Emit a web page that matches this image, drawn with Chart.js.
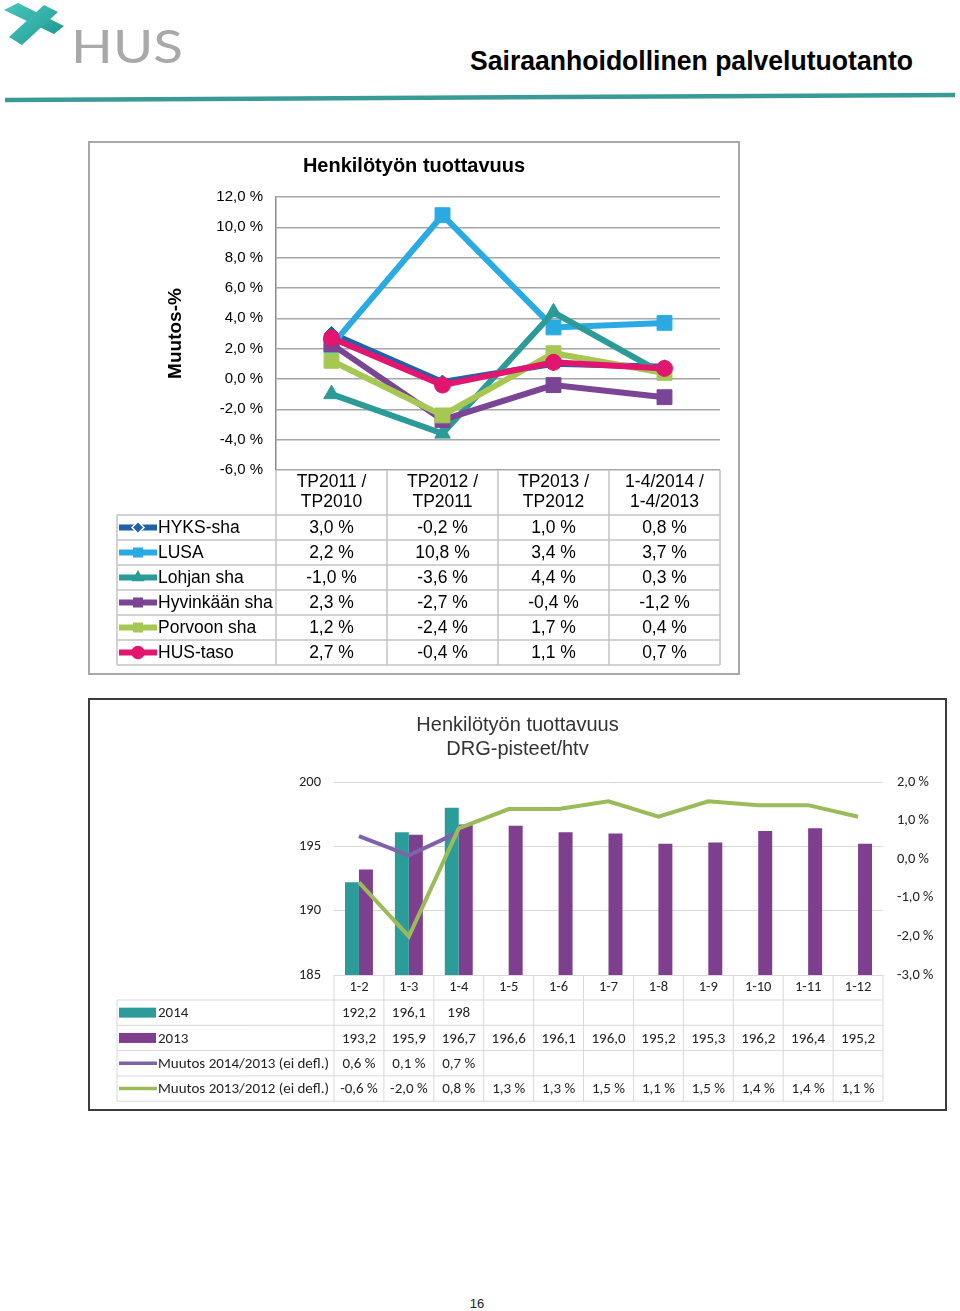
<!DOCTYPE html>
<html>
<head>
<meta charset="utf-8">
<script src="https://cdn.jsdelivr.net/npm/chart.js@4.4.1/dist/chart.umd.min.js"></script>
<style>
  body { margin: 0; width: 960px; height: 1311px; position: relative; background: #fff; overflow: hidden;
         font-family: "Liberation Sans", Arial, sans-serif; }
  #header { position: absolute; left: 0; top: 0; }
  .box { position: absolute; box-sizing: border-box; }
  #box1 { left: 88px; top: 141px; width: 652px; height: 534px; border: 2px solid #a9a9a9; }
  #box2 { left: 88px; top: 698px; width: 859px; height: 413px; border: 2px solid #3c3c3c; }
  canvas { display: block; }
  #pageNo { position: absolute; left: 0; width: 954px; top: 1296px; text-align: center; font-size: 13px; color: #222; }
</style>
</head>
<body>

<svg id="header" width="960" height="110">
  <defs>
    <linearGradient id="tealGrad" x1="0" y1="0" x2="1" y2="1">
      <stop offset="0" stop-color="#48c6bc"/>
      <stop offset="1" stop-color="#1f9a93"/>
    </linearGradient>
  </defs>
  <!-- logo mark -->
  <polygon points="4,10 18,3 64,26 54,34" fill="url(#tealGrad)"/>
  <polygon points="44,5 58,12 22,45 9,37" fill="url(#tealGrad)"/>
  <text x="71" y="63" font-family="Lato, 'Liberation Sans'" font-weight="400" font-size="47" fill="#a9a9a9"
        textLength="112" lengthAdjust="spacingAndGlyphs">HUS</text>
  <!-- title -->
  <text x="470" y="70" font-family="'Liberation Sans', Arial" font-weight="bold" font-size="27" fill="#000"
        textLength="443" lengthAdjust="spacingAndGlyphs">Sairaanhoidollinen palvelutuotanto</text>
  <!-- rule -->
  <line x1="5" y1="100" x2="955" y2="95" stroke="#3a9a96" stroke-width="4.5"/>
</svg>

<div class="box" id="box1"><canvas id="chart1" width="648" height="530"></canvas></div>
<div class="box" id="box2"><canvas id="chart2" width="855" height="409"></canvas></div>
<div id="pageNo">16</div>

<script>
// --- DATOS: Henkilötyön tuottavuus (muutos-%) ---
const periods = [['TP2011 /', 'TP2010'], ['TP2012 /', 'TP2011'], ['TP2013 /', 'TP2012'], ['1-4/2014 /', '1-4/2013']];
const units = ['HYKS-sha', 'LUSA', 'Lohjan sha', 'Hyvinkään sha', 'Porvoon sha', 'HUS-taso'];
const hyks = [3.0, -0.2, 1.0, 0.8];
const lusa = [2.2, 10.8, 3.4, 3.7];
const lohja = [-1.0, -3.6, 4.4, 0.3];
const hyvinkaa = [2.3, -2.7, -0.4, -1.2];
const porvoo = [1.2, -2.4, 1.7, 0.4];
const husTaso = [2.7, -0.4, 1.1, 0.7];
const pctMin = -6, pctMax = 12, pctStep = 2;

// --- DATOS: DRG-pisteet/htv ---
const months = ['1-2', '1-3', '1-4', '1-5', '1-6', '1-7', '1-8', '1-9', '1-10', '1-11', '1-12'];
const drg2014 = [192.2, 196.1, 198, null, null, null, null, null, null, null, null];
const drg2013 = [193.2, 195.9, 196.7, 196.6, 196.1, 196.0, 195.2, 195.3, 196.2, 196.4, 195.2];
const change1413 = [0.6, 0.1, 0.7, null, null, null, null, null, null, null, null];
const change1312 = [-0.6, -2.0, 0.8, 1.3, 1.3, 1.5, 1.1, 1.5, 1.4, 1.4, 1.1];
const drgMin = 185, drgMax = 200, drgStep = 5;
const chgMin = -3, chgMax = 2, chgStep = 1;

const ARIAL = '"Liberation Sans", Arial, sans-serif';
const CALIBRI = 'Carlito, Calibri, Lato, "Liberation Sans", sans-serif';

const pct1 = v => v.toFixed(1).replace('.', ',') + ' %';
const num1 = v => v.toFixed(1).replace('.', ',');
const numGen = v => String(v).replace('.', ',');

// --- TABLA DE DATOS BAJO EL GRÁFICO ---
function makeTable(cfg) {
  return {
    id: 'dataTable',
    afterDraw(chart) {
      const { ctx, scales: { x } } = chart;
      const n = chart.data.labels.length;
      const step = x.getPixelForValue(1) - x.getPixelForValue(0);
      const x0 = x.getPixelForValue(0) - step / 2;
      const x1 = x0 + n * step;
      const top = x.bottom;
      const bottom = top + cfg.rows.length * cfg.rowHeight;

      ctx.save();
      ctx.strokeStyle = cfg.lineColor;
      ctx.lineWidth = cfg.lineWidth;
      ctx.beginPath();
      for (let r = 0; r <= cfg.rows.length; r++) {
        const y = top + r * cfg.rowHeight;
        ctx.moveTo(cfg.left, y); ctx.lineTo(x1, y);
      }
      for (let i = 0; i <= n; i++) {
        ctx.moveTo(x0 + i * step, x.top); ctx.lineTo(x0 + i * step, bottom);
      }
      ctx.moveTo(cfg.left, top); ctx.lineTo(cfg.left, bottom);
      ctx.stroke();

      ctx.font = cfg.font;
      ctx.textBaseline = 'middle';
      cfg.rows.forEach((di, r) => {
        const ds = chart.data.datasets[di];
        const cy = top + (r + 0.5) * cfg.rowHeight;
        const kx = cfg.left + 2;
        if (ds.type === 'bar') {
          ctx.fillStyle = ds.backgroundColor;
          ctx.fillRect(kx, cy - 5, 37, 10);
        } else {
          ctx.strokeStyle = ds.borderColor;
          ctx.lineWidth = cfg.keyLine;
          ctx.beginPath(); ctx.moveTo(kx, cy); ctx.lineTo(kx + 38, cy); ctx.stroke();
          if (ds.pointRadius > 0) {
            ctx.fillStyle = ds.pointBackgroundColor;
            ctx.strokeStyle = ds.keyStroke || ds.borderColor;
            ctx.lineWidth = 1.5;
            Chart.helpers.drawPoint(ctx, { pointStyle: ds.pointStyle, radius: cfg.keyRadius, rotation: 0, borderWidth: 1.5 }, kx + 19, cy);
          }
        }
        ctx.fillStyle = cfg.color;
        ctx.textAlign = 'left';
        ctx.fillText(ds.label, cfg.left + cfg.labelOffset, cy + 1);
        ctx.textAlign = 'center';
        ds.data.forEach((v, i) => {
          if (v !== null) ctx.fillText(ds.fmt(v), x.getPixelForValue(i), cy + 1);
        });
      });
      ctx.restore();
    }
  };
}

// --- GRÁFICO 1 ---
const series1 = [hyks, lusa, lohja, hyvinkaa, porvoo, husTaso];
const colors1 = ['#1f62a8', '#2aaae2', '#2c9b98', '#7b4596', '#a6c853', '#e2166f'];
const styles1 = ['rectRot', 'rect', 'triangle', 'rect', 'rect', 'circle'];
const radii1 = [7, 10.5, 9, 10.5, 10.5, 8];

new Chart(document.getElementById('chart1'), {
  type: 'line',
  data: {
    labels: periods,
    datasets: units.map((u, i) => ({
      label: u,
      data: series1[i],
      fmt: pct1,
      borderColor: colors1[i],
      backgroundColor: colors1[i],
      pointBackgroundColor: colors1[i],
      pointBorderColor: colors1[i],
      keyStroke: i === 0 ? '#ffffff' : null,
      pointStyle: styles1[i],
      pointRadius: radii1[i],
      pointBorderWidth: 1,
      borderWidth: 6,
      tension: 0,
      order: units.length - i
    }))
  },
  options: {
    responsive: false,
    animation: false,
    layout: { padding: { left: 0, right: 0, top: 0, bottom: 158 } },
    plugins: {
      legend: { display: false },
      tooltip: { enabled: false },
      title: {
        display: true, text: 'Henkilötyön tuottavuus', color: '#000',
        font: { family: ARIAL, size: 20, weight: 'bold' },
        padding: { top: 11, bottom: 19 }
      }
    },
    scales: {
      x: {
        offset: true,
        grid: { display: false, drawTicks: false },
        border: { display: false },
        ticks: { color: '#000', font: { family: ARIAL, size: 17.5, lineHeight: 1.15 }, padding: 2, maxRotation: 0, autoSkip: false },
        afterFit(s) { s.height = 45; }
      },
      y: {
        min: pctMin, max: pctMax,
        ticks: { stepSize: pctStep, callback: v => pct1(v), color: '#000', font: { family: ARIAL, size: 15 }, padding: 13 },
        grid: { color: '#a6a6a6', lineWidth: 1.5, drawTicks: false },
        border: { color: '#8a8a8a', width: 1.5 },
        title: { display: true, text: 'Muutos-%', color: '#000', font: { family: ARIAL, size: 19, weight: 'bold' }, padding: { top: 74, bottom: 0 } },
        afterFit(s) { s.width = 186; }
      },
      // espacio vacío a la derecha, para que el título quede centrado en el recuadro
      yRight: {
        position: 'right',
        min: pctMin, max: pctMax,
        ticks: { display: false },
        grid: { display: false, drawTicks: false },
        border: { display: false },
        afterFit(s) { s.width = 18; }
      }
    }
  },
  plugins: [makeTable({
    rows: [0, 1, 2, 3, 4, 5], rowHeight: 25, left: 27, labelOffset: 41,
    lineColor: '#c4c4c4', lineWidth: 1.5, font: '17.5px ' + ARIAL, color: '#000',
    keyLine: 6, keyRadius: 6
  })]
});

// --- GRÁFICO 2 ---
new Chart(document.getElementById('chart2'), {
  data: {
    labels: months,
    datasets: [
      { type: 'bar', label: '2014', data: drg2014, fmt: numGen, backgroundColor: '#2c9c9a', yAxisID: 'y', order: 2,
        categoryPercentage: 0.56, barPercentage: 1 },
      { type: 'bar', label: '2013', data: drg2013, fmt: num1, backgroundColor: '#7f3f8f', yAxisID: 'y', order: 2,
        categoryPercentage: 0.56, barPercentage: 1 },
      { type: 'line', label: 'Muutos 2014/2013 (ei defl.)', data: change1413, fmt: pct1, borderColor: '#7f63a8',
        borderWidth: 4, pointRadius: 0, yAxisID: 'y1', order: 1, tension: 0 },
      { type: 'line', label: 'Muutos 2013/2012 (ei defl.)', data: change1312, fmt: pct1, borderColor: '#9bbb59',
        borderWidth: 4, pointRadius: 0, yAxisID: 'y1', order: 0, tension: 0 }
    ]
  },
  options: {
    responsive: false,
    animation: false,
    layout: { padding: { left: 0, right: 0, top: 0, bottom: 109 } },
    plugins: {
      legend: { display: false },
      tooltip: { enabled: false },
      title: {
        display: true, text: ['Henkilötyön tuottavuus', 'DRG-pisteet/htv'], color: '#333',
        font: { family: ARIAL, size: 20, weight: 'normal', lineHeight: '24px' },
        padding: { top: 13, bottom: 21 }
      }
    },
    scales: {
      x: {
        grid: { display: false, drawTicks: false },
        border: { display: false },
        ticks: { color: '#222', font: { family: CALIBRI, size: 14.5 }, padding: 4, maxRotation: 0, autoSkip: false },
        afterFit(s) { s.height = 25; }
      },
      y: {
        position: 'left',
        min: drgMin, max: drgMax,
        ticks: { stepSize: drgStep, color: '#222', font: { family: CALIBRI, size: 14.5 }, padding: 13 },
        grid: { color: '#d9d9d9', lineWidth: 1, drawTicks: false },
        border: { display: false },
        afterFit(s) { s.width = 244; }
      },
      y1: {
        position: 'right',
        min: chgMin, max: chgMax,
        ticks: { stepSize: chgStep, callback: v => pct1(v), color: '#222', font: { family: CALIBRI, size: 14.5 }, padding: 14 },
        grid: { display: false, drawTicks: false },
        border: { display: false },
        afterFit(s) { s.width = 62; }
      }
    }
  },
  plugins: [makeTable({
    rows: [0, 1, 2, 3], rowHeight: 25.3, left: 27, labelOffset: 41,
    lineColor: '#d9d9d9', lineWidth: 1, font: '15px ' + CALIBRI, color: '#222',
    keyLine: 3.5, keyRadius: 0
  })]
});
</script>
</body>
</html>
